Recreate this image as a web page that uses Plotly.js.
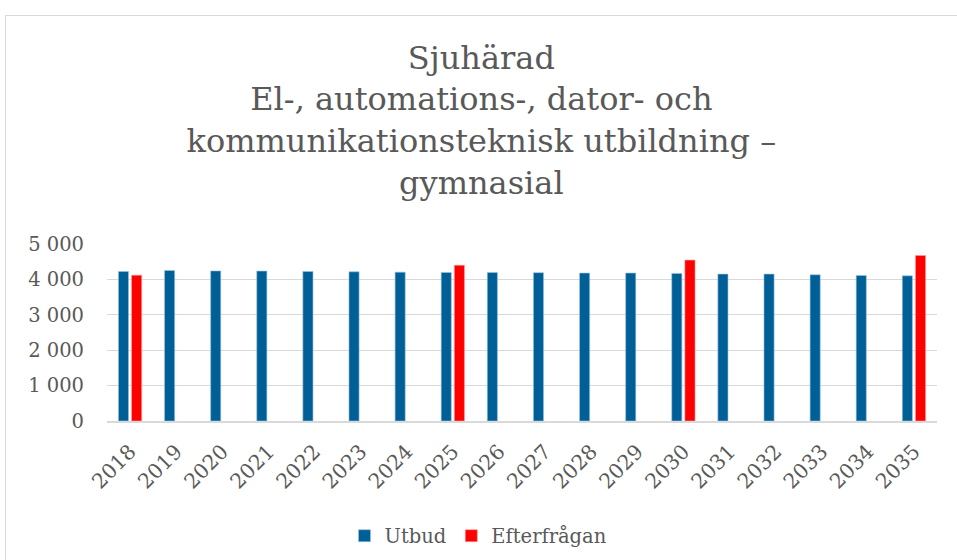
<!DOCTYPE html>
<html><head><meta charset="utf-8">
<script src="https://cdn.plot.ly/plotly-3.0.1.min.js"></script>
<style>html,body{margin:0;padding:0;background:#fff;}#wrap{position:relative;width:957px;height:560px;}#chart{width:957px;height:560px;}#frame{position:absolute;left:5px;top:15px;width:970px;height:560px;border:1px solid #d9d9d9;box-sizing:border-box;pointer-events:none;}</style>
</head><body><div id="wrap"><div id="chart"></div><div id="frame"></div></div>
<script>
const years = ['2018','2019','2020','2021','2022','2023','2024','2025','2026','2027','2028','2029','2030','2031','2032','2033','2034','2035'];
const utbud = [4225,4250,4240,4235,4225,4215,4205,4195,4195,4190,4180,4180,4170,4150,4150,4130,4110,4100];
const efterfragan = [4120,null,null,null,null,null,null,4400,null,null,null,null,4545,null,null,null,null,4675];
const yTicks = [0,1000,2000,3000,4000,5000];
const FONT = 'DejaVu Serif';
const GREY = '#595959';
const traces = [
  {type:'bar', name:'Utbud', x:years, y:utbud, marker:{color:'#005f96', line:{color:'#9cc3e0', width:0.6}}},
  {type:'bar', name:'Efterfrågan', x:years, y:efterfragan, marker:{color:'#ff0000', line:{color:'#ff9a9a', width:0.6}}}
];
const layout = {
  width:957, height:560,
  margin:{l:107, r:20, t:244, b:139},
  paper_bgcolor:'#fff', plot_bgcolor:'#fff',
  separators:', ',
  font:{family:FONT, color:GREY, size:19},
  title:{text:'Sjuhärad<br>El-, automations-, dator- och<br>kommunikationsteknisk utbildning –<br>gymnasial',
    font:{family:FONT, size:32, color:GREY}, x:0.503, xanchor:'center', xref:'container', y:0.877, yanchor:'top', yref:'container'},
  barmode:'group', bargap:0.43, bargroupgap:0.23,
  xaxis:{type:'category', tickangle:-45, showgrid:false, showline:true, linecolor:'#d9d9d9', linewidth:1.5, ticks:'', ticklabelstandoff:9, tickfont:{family:FONT,size:20.5,color:GREY}},
  yaxis:{range:[0,5000], tickvals:yTicks, tickformat:',d', showgrid:true, gridcolor:'#d9d9d9', gridwidth:1.3, zeroline:false, showline:false, ticks:'', ticklabelstandoff:22, tickfont:{family:FONT,size:19.5,color:GREY}},
  showlegend:true,
  legend:{orientation:'h', x:0.5, xref:'container', xanchor:'center', y:0.008, yref:'container', yanchor:'bottom', font:{family:FONT,size:19.5,color:GREY}, itemwidth:30}
};
Plotly.newPlot('chart', traces, layout, {displayModeBar:false, staticPlot:true});
</script></body></html>
